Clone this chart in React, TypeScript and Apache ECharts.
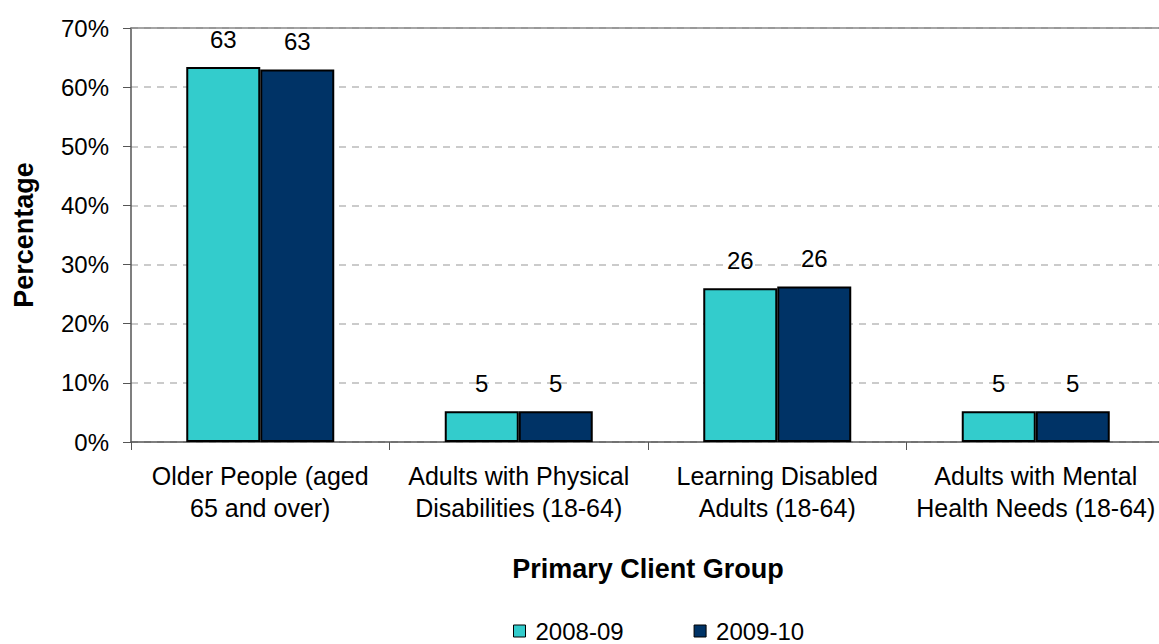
import React, { useEffect, useRef } from "react";
import * as echarts from "echarts";

// Share of clients by primary client group, two financial years
const categories = [
  "Older People (aged\n65 and over)",
  "Adults with Physical\nDisabilities (18-64)",
  "Learning Disabled\nAdults (18-64)",
  "Adults with Mental\nHealth Needs (18-64)",
];
const seriesNames = ["2008-09", "2009-10"];
const values2008 = [63.4, 5.2, 26.0, 5.2];
const values2009 = [63.0, 5.2, 26.3, 5.2];
const yTicks = { min: 0, max: 70, interval: 10 };

const FONT = "'Liberation Sans', Arial, Helvetica, sans-serif";
const colors = ["#33CCCC", "#003366"];

export default function App() {
  const ref = useRef<HTMLDivElement>(null);

  useEffect(() => {
    if (!ref.current) return;
    const chart = echarts.init(ref.current, undefined, { renderer: "svg" });

    const barSeries = (name: string, data: number[], color: string) => ({
      name,
      type: "bar",
      data,
      barWidth: 74,
      barGap: "0%",
      itemStyle: { color, borderColor: "#000", borderWidth: 2 },
      label: {
        show: true,
        position: "top",
        distance: 16,
        fontFamily: FONT,
        fontSize: 24,
        color: "#000",
        formatter: (p: any) => String(Math.round(p.value)),
      },
    });

    chart.setOption({
      animation: false,
      backgroundColor: "#fff",
      textStyle: { fontFamily: FONT },
      color: colors,
      grid: {
        left: 131,
        top: 28,
        right: -6,
        bottom: 202,
        containLabel: false,
        outerBoundsMode: "none",
      },
      legend: {
        data: seriesNames,
        left: 513,
        top: 619,
        padding: 0,
        icon: "rect",
        itemWidth: 12,
        itemHeight: 12,
        itemGap: 70,
        itemStyle: { borderColor: "#000", borderWidth: 1 },
        textStyle: {
          fontFamily: FONT,
          fontSize: 24,
          color: "#000",
          padding: [0, 0, 0, 5],
        },
      },
      xAxis: [
        {
          type: "category",
          data: categories,
          boundaryGap: true,
          name: "Primary Client Group",
          nameLocation: "middle",
          nameGap: 113,
          nameTextStyle: {
            fontFamily: FONT,
            fontSize: 27,
            fontWeight: "bold",
            color: "#000",
          },
          axisLine: { show: true, lineStyle: { color: "#555", width: 1.5 } },
          axisTick: { show: true, length: 8, lineStyle: { color: "#555" } },
          axisLabel: {
            margin: 18,
            fontFamily: FONT,
            fontSize: 25,
            lineHeight: 32,
            color: "#000",
            interval: 0,
          },
        },
        {
          // plain top border of the plot area
          type: "category",
          data: categories,
          position: "top",
          axisLine: { show: true, lineStyle: { color: "#888", width: 1.5 } },
          axisTick: { show: false },
          axisLabel: { show: false },
        },
      ],
      yAxis: {
        type: "value",
        min: yTicks.min,
        max: yTicks.max,
        interval: yTicks.interval,
        name: "Percentage",
        nameLocation: "middle",
        nameRotate: 90,
        nameGap: 94,
        nameTextStyle: {
          fontFamily: FONT,
          fontSize: 27,
          fontWeight: "bold",
          color: "#000",
        },
        axisLine: { show: true, lineStyle: { color: "#555", width: 1.5 } },
        axisTick: { show: true, length: 8, lineStyle: { color: "#555" } },
        axisLabel: {
          margin: 22,
          fontFamily: FONT,
          fontSize: 24,
          color: "#000",
          formatter: "{value}%",
        },
        splitLine: {
          show: true,
          lineStyle: { color: "#BBBBBB", type: [7, 6], width: 1.5 },
        },
      },
      series: [
        barSeries(seriesNames[0], values2008, colors[0]),
        barSeries(seriesNames[1], values2009, colors[1]),
      ],
    });

    return () => chart.dispose();
  }, []);

  return (
    <div
      ref={ref}
      style={{ position: "absolute", left: 0, top: 0, width: 1159, height: 644 }}
    />
  );
}
